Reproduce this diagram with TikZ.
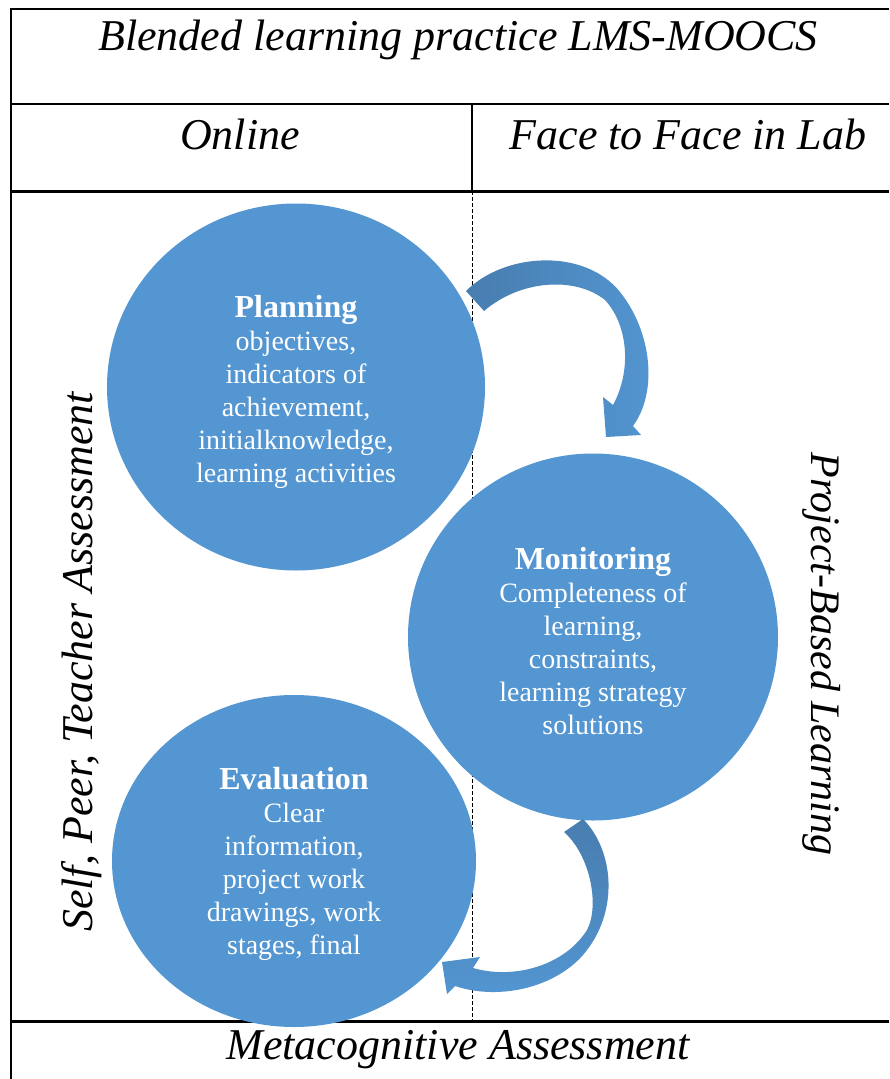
\documentclass[tikz,border=0pt]{standalone}
\usepackage{fontspec}
\setmainfont{Liberation Serif}
\usetikzlibrary{shapes.geometric}
\definecolor{circblue}{RGB}{83,150,210}
\definecolor{arrdark}{RGB}{72,125,175}
\newcommand\myblobtitle{\fontsize{32}{33}\selectfont\bfseries}
\begin{document}
\begin{tikzpicture}[x=1pt,y=-1pt,
  heading/.style={font=\fontsize{44}{52}\selectfont\itshape, inner sep=0},
  blob/.style={ellipse, fill=circblue, inner sep=0},
  blobtext/.style={text=white, align=center, font=\fontsize{28}{33}\selectfont, inner sep=0},
  thinrule/.style={line width=1.5pt},
  thickrule/.style={line width=3pt},
  divider/.style={line width=1pt, dash pattern=on 4pt off 2pt}]
\useasboundingbox (0,0) rectangle (889,1079);
% table rules
\draw[thinrule] (11,1079) -- (11,9) -- (889,9);
\draw[thinrule] (11,104) -- (889,104);
\draw[thinrule] (472,104) -- (472,191);
\draw[thickrule] (11,191) -- (889,191);
\draw[divider] (472,191) -- (472,1021);
\draw[thickrule] (11,1021) -- (889,1021);
% headings
\node[heading] (title) at (458,40) {Blended learning practice LMS-MOOCS};
\node[heading] (online) at (240,134) {Online};
\node[heading] (f2f) at (688,134) {Face to Face in Lab};
\node[heading] (meta) at (458,1050) {Metacognitive Assessment};
\node[heading, rotate=90] (selfpeer) at (82,662) {Self, Peer, Teacher Assessment};
\node[heading, rotate=-90, font=\fontsize{42}{50}\selectfont\itshape] (pbl) at (822,654) {Project-Based Learning};
% circles
\node[blob, minimum width=378pt, minimum height=367pt] (plan) at (296,387) {};
\node[blob, minimum width=370pt, minimum height=367pt] (moni) at (593,637) {};
\node[blob, minimum width=364pt, minimum height=332pt] (eval) at (294,861) {};
\node[blobtext] (plantext) at (296,392) {{\myblobtitle Planning}\\objectives,\\indicators of\\achievement,\\initialknowledge,\\learning activities};
\node[blobtext] (monitext) at (593,641) {{\myblobtitle Monitoring}\\Completeness of\\learning,\\constraints,\\learning strategy\\solutions};
\node[blobtext] (evaltext) at (294,864) {{\myblobtitle Evaluation}\\Clear\\information,\\project work\\drawings, work\\stages, final};
% curved arrows
\shade[left color=arrdark, right color=circblue]
  (466,291) .. controls (505,252) and (585,248) .. (620,292)
  .. controls (652,332) and (658,392) .. (633,426)
  -- (641,435) -- (606,437) -- (603,397) -- (613,405)
  .. controls (632,370) and (628,325) .. (605,300)
  .. controls (575,276) and (520,280) .. (484,311) -- cycle;
\shade[top color=arrdark, bottom color=circblue]
  (583,819) .. controls (614,850) and (620,912) .. (583,955)
  .. controls (555,987) and (500,1001) .. (455,986)
  -- (447,994) -- (442,962) -- (480,957) -- (473,968)
  .. controls (515,980) and (565,965) .. (587,930)
  .. controls (600,905) and (590,855) .. (564,832) -- cycle;
\end{tikzpicture}
\end{document}
